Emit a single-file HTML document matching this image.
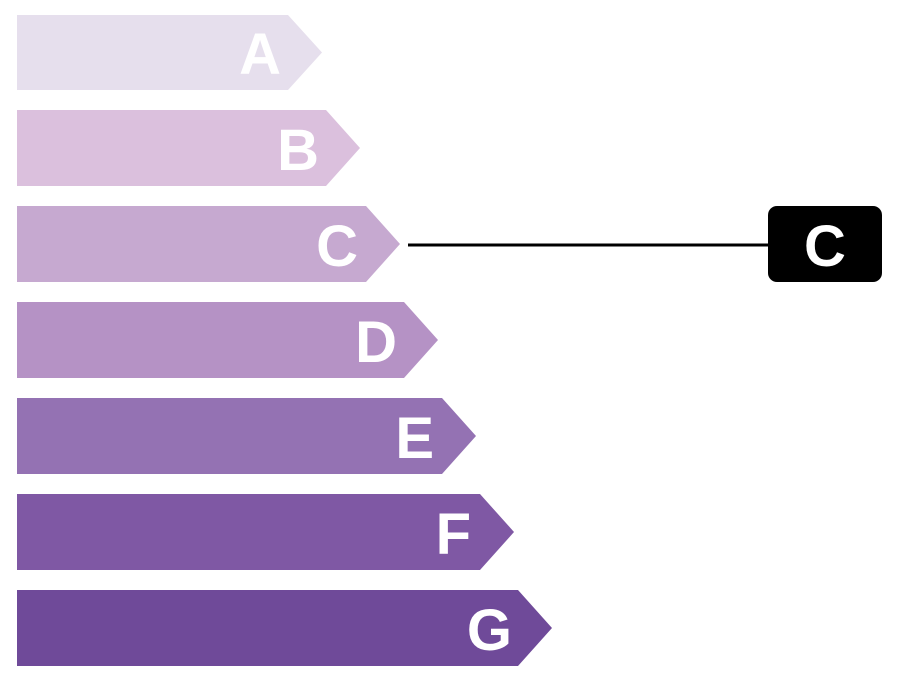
<!DOCTYPE html>
<html><head><meta charset="utf-8"><style>
body{margin:0;width:900px;height:680px;background:#fff;overflow:hidden}
</style></head><body>
<svg width="900" height="680" xmlns="http://www.w3.org/2000/svg" font-family="Liberation Sans, sans-serif" font-weight="bold" font-size="58">
<g fill="#fff">
<polygon points="17,15 288,15 322,52.5 288,90 17,90" fill="#e6dfed"/>
<text x="281" y="74" text-anchor="end">A</text>
<polygon points="17,110 326,110 360,148 326,186 17,186" fill="#dbc0dd"/>
<text x="319" y="170" text-anchor="end">B</text>
<polygon points="17,206 366,206 400,244 366,282 17,282" fill="#c6a9d0"/>
<text x="358" y="266" text-anchor="end">C</text>
<polygon points="17,302 404,302 438,340 404,378 17,378" fill="#b592c5"/>
<text x="397" y="362" text-anchor="end">D</text>
<polygon points="17,398 442,398 476,436 442,474 17,474" fill="#9472b3"/>
<text x="434" y="458" text-anchor="end">E</text>
<polygon points="17,494 480,494 514,532 480,570 17,570" fill="#7f58a4"/>
<text x="471" y="554" text-anchor="end">F</text>
<polygon points="17,590 518,590 552,628 518,666 17,666" fill="#6f4a99"/>
<text x="512" y="650" text-anchor="end">G</text>
</g>
<line x1="408" y1="245" x2="770" y2="245" stroke="#000" stroke-width="3"/>
<rect x="768" y="206" width="114" height="76" rx="9" fill="#000"/>
<text x="825" y="266" text-anchor="middle" fill="#fff">C</text>
</svg>
</body></html>
